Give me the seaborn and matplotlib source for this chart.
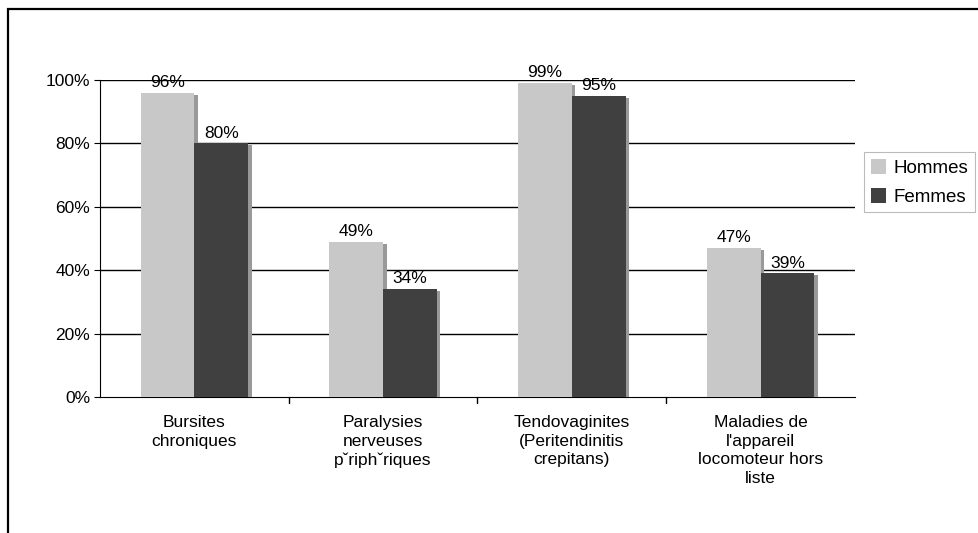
import pandas as pd
import seaborn as sns
import matplotlib.pyplot as plt
import matplotlib.patheffects as pe
from matplotlib.patches import Rectangle

# data
categories = ["Bursites\nchroniques",
              "Paralysies\nnerveuses\np\u02c7riph\u02c7riques",
              "Tendovaginites\n(Peritendinitis\ncrepitans)",
              "Maladies de\nl'appareil\nlocomoteur hors\nliste"]
hommes = [0.96, 0.49, 0.99, 0.47]
femmes = [0.80, 0.34, 0.95, 0.39]
series = ["Hommes", "Femmes"]
colors = ["#c8c8c8", "#404040"]
y_ticks = [0, 0.2, 0.4, 0.6, 0.8, 1.0]

df = pd.DataFrame({
    "cat": categories * 2,
    "val": hommes + femmes,
    "serie": [series[0]] * 4 + [series[1]] * 4,
})

sns.set_style("white")
plt.rcParams['font.family'] = ['Liberation Sans', 'DejaVu Sans']
plt.rcParams['font.size'] = 12
plt.rcParams['text.color'] = "black"
plt.rcParams['xtick.color'] = "black"
plt.rcParams['ytick.color'] = "black"

fig = plt.figure(figsize=(9.79, 5.33), dpi=100)
ax = fig.add_axes([100 / 979, 1 - 397 / 533, 755 / 979, 317 / 533])

# outer chart frame (runs off the right and bottom edges)
fig.patches.append(Rectangle((8.5 / 979, -0.05), 1.1, 1 - 8.5 / 533 + 0.05,
                             transform=fig.transFigure, fill=False,
                             edgecolor="black", linewidth=1.6, zorder=0))

sns.barplot(data=df, x="cat", y="val", hue="serie", palette=colors,
            width=0.57, gap=0, ax=ax, saturation=1, legend=True, zorder=3)

shadow = [pe.SimplePatchShadow(offset=(2.5, -1.5), shadow_rgbFace="#999999", alpha=1),
          pe.Normal()]
for p in ax.patches:
    p.set_edgecolor("none")
    p.set_path_effects(shadow)

for cont in ax.containers:
    ax.bar_label(cont, labels=[f"{v * 100:.0f}%" for v in cont.datavalues],
                 padding=2, fontsize=12.5, color="black")

ax.set_ylim(0, 1)
ax.set_xlim(-0.5, 3.5)
ax.set_yticks(y_ticks)
ax.set_yticklabels([f"{t * 100:.0f}%" for t in y_ticks], fontsize=12.5)
for t in y_ticks[1:]:
    ax.axhline(t, color="black", linewidth=1, zorder=1)

ax.set_xticks(range(4))
ax.set_xticklabels(categories, linespacing=1.3, fontsize=12.5)
ax.tick_params(axis="x", length=0, pad=13)
ax.tick_params(axis="y", length=4, direction="out", left=True, pad=3)
# category separator ticks
for x in [0.5, 1.5, 2.5]:
    ax.plot([x, x], [0, -0.018], color="black", linewidth=1, clip_on=False)

ax.set_xlabel("")
ax.set_ylabel("")
for s in ["top", "right"]:
    ax.spines[s].set_visible(False)
ax.spines["left"].set_color("black")
ax.spines["bottom"].set_color("black")

leg = ax.legend(loc="upper left", bbox_to_anchor=(864 / 979, 1 - 152 / 533),
                bbox_transform=fig.transFigure, frameon=True, fancybox=False,
                borderaxespad=0, handlelength=0.85, handleheight=0.85,
                handletextpad=0.4, borderpad=0.35, labelspacing=0.6, fontsize=13.5)
leg.get_frame().set_edgecolor("#aaaaaa")
leg.get_frame().set_linewidth(0.8)
for h in leg.legend_handles:
    h.set_path_effects([])

fig.savefig("out.png", dpi=100)
